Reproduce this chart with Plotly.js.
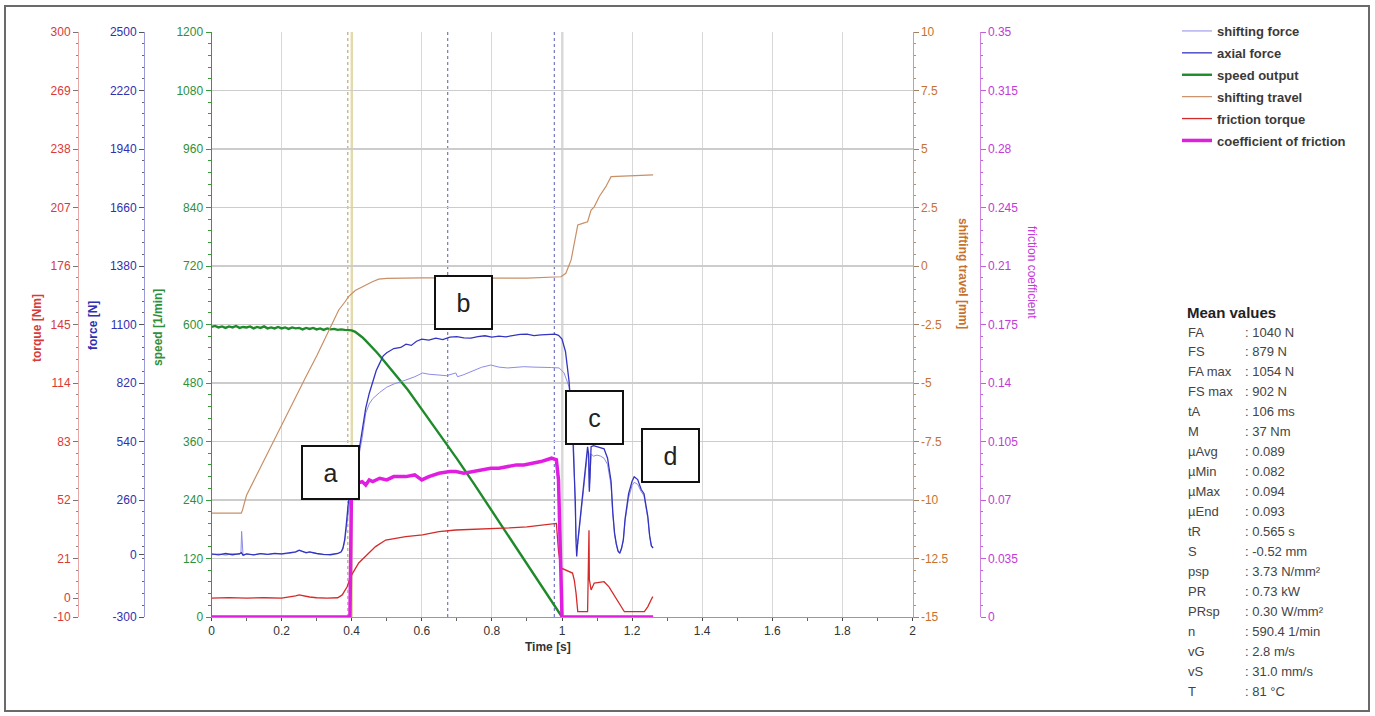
<!DOCTYPE html>
<html><head><meta charset="utf-8">
<script src="https://cdn.plot.ly/plotly-3.0.1.min.js"></script>
<style>html,body{margin:0;padding:0;background:#fff;}#chart{width:1375px;height:716px;}</style>
</head><body><div id="chart"></div>
<script>
// ---------- data ----------
const seriesNames = ["shifting force","axial force","speed output","shifting travel","friction torque","coefficient of friction"];

const tShift = [0,0.02,0.04,0.06,0.08,0.084,0.086,0.088,0.09,0.1,0.12,0.14,0.16,0.18,0.2,0.22,0.24,0.25,0.26,0.27,0.28,0.3,0.32,0.34,0.36,0.37,0.375,0.38,0.385,0.39,0.395,0.4,0.41,0.42,0.43,0.44,0.45,0.46,0.48,0.5,0.52,0.554,0.58,0.602,0.62,0.649,0.67,0.697,0.702,0.72,0.749,0.77,0.797,0.82,0.845,0.87,0.891,0.92,0.94,0.97,0.992,1.006,1.02,1.031,1.035,1.04,1.045,1.05,1.06,1.07,1.073,1.076,1.078,1.08,1.083,1.09,1.1,1.11,1.12,1.13,1.14,1.145,1.15,1.155,1.16,1.165,1.17,1.175,1.18,1.19,1.2,1.206,1.216,1.226,1.234,1.24,1.245,1.25,1.255,1.26];
const shiftForce = [-2,2,-4,3,-1,5,110,20,-5,1,-2,4,-1,3,1,4,10,18,12,6,10,3,-2,0,3,10,25,60,130,210,260,280,370,465,560,676,720,745,775,800,815,834,850,868,862,858,855,868,850,860,882,895,906,896,892,895,898,896,896,894,892,868,802,650,400,80,50,130,280,440,490,470,320,370,480,470,475,470,460,430,330,190,95,45,15,8,28,65,160,270,330,345,335,300,280,220,170,85,40,35];

const tAxial = [0,0.02,0.04,0.06,0.08,0.085,0.09,0.1,0.12,0.14,0.16,0.18,0.2,0.22,0.24,0.25,0.26,0.27,0.28,0.3,0.32,0.34,0.36,0.37,0.375,0.38,0.385,0.39,0.395,0.4,0.41,0.42,0.43,0.44,0.45,0.46,0.47,0.48,0.49,0.5,0.52,0.54,0.555,0.57,0.585,0.6,0.62,0.64,0.66,0.68,0.7,0.72,0.74,0.76,0.78,0.8,0.82,0.84,0.86,0.88,0.9,0.92,0.94,0.96,0.98,0.99,1.0,1.01,1.02,1.03,1.035,1.038,1.04,1.042,1.045,1.05,1.055,1.06,1.065,1.07,1.073,1.076,1.078,1.08,1.083,1.09,1.1,1.11,1.12,1.13,1.14,1.145,1.15,1.155,1.16,1.165,1.17,1.175,1.18,1.19,1.2,1.206,1.216,1.226,1.234,1.24,1.245,1.25,1.255,1.26];
const axialForce = [2,-3,4,-2,3,8,-4,2,-3,3,0,5,2,6,12,20,14,8,12,4,0,-2,4,12,30,70,150,240,290,310,380,480,600,700,770,830,880,915,950,965,985,990,1006,1000,1020,1030,1025,1035,1028,1040,1042,1036,1035,1042,1046,1040,1044,1041,1048,1053,1054,1047,1050,1052,1054,1048,1030,970,830,600,400,250,60,-10,60,140,210,300,400,470,515,480,300,380,515,520,514,510,505,460,350,200,100,50,15,5,30,70,170,290,350,371,358,310,290,230,180,90,40,30];

const tSpeed = [0,0.01,0.02,0.03,0.04,0.05,0.06,0.07,0.08,0.09,0.1,0.11,0.12,0.13,0.14,0.15,0.16,0.17,0.18,0.19,0.2,0.21,0.22,0.23,0.24,0.25,0.26,0.27,0.28,0.29,0.3,0.31,0.32,0.33,0.34,0.35,0.36,0.37,0.38,0.39,0.4,0.41,0.42,0.43,0.44,0.45,0.46,0.47,0.48,0.49,0.5,0.52,0.54,0.56,0.6,0.65,0.7,0.75,0.8,0.85,0.9,0.95,0.98,1.0];
const speedOut = [595,597,594,596,593,596,594,597,593,595,594,596,592,595,593,596,592,594,592,595,592,594,591,594,592,593,590,593,591,593,590,592,589,592,590,591,589,590,589,589,588,585,580,574,567,560,552,544,536,527,518,500,483,466,426,376,325,272,218,164,110,55,22,0];

const tTravel = [0,0.085,0.088,0.1,0.126,0.15,0.173,0.2,0.22,0.24,0.269,0.3,0.33,0.363,0.38,0.391,0.41,0.43,0.459,0.477,0.5,0.6,0.7,0.8,0.9,0.997,1.011,1.026,1.035,1.045,1.059,1.073,1.083,1.092,1.106,1.125,1.14,1.26];
const travel = [-10.56,-10.56,-10.45,-9.8,-9.02,-8.3,-7.56,-6.75,-6.15,-5.6,-4.74,-3.85,-2.9,-1.88,-1.55,-1.31,-1.05,-0.89,-0.67,-0.56,-0.53,-0.51,-0.52,-0.51,-0.52,-0.46,-0.31,0.26,0.97,1.75,1.82,1.89,2.39,2.53,2.96,3.39,3.82,3.89];

const tTorque = [0,0.05,0.1,0.15,0.2,0.22,0.24,0.25,0.26,0.28,0.3,0.33,0.36,0.373,0.387,0.397,0.42,0.44,0.468,0.497,0.554,0.602,0.649,0.697,0.75,0.8,0.85,0.9,0.94,0.984,0.99,0.997,1.03,1.035,1.04,1.045,1.073,1.076,1.077,1.078,1.083,1.092,1.12,1.134,1.145,1.159,1.169,1.178,1.235,1.245,1.254,1.259];
const torque = [0,0.3,0,0.2,0,0.5,1.2,1.7,1.2,0.6,0.2,0,0.2,1.7,6,11.4,18.6,22,27.3,30.8,32.6,33.5,35.2,36.1,36.4,36.8,37.2,37.8,38.8,39.6,25,16,13.3,9.6,2.7,-7.2,-7.2,20,36,10,4.3,8,8.7,6,2.7,-1,-4.5,-7.2,-7.2,-4.5,-1,0.8];

const tMu = [0,0.395,0.397,0.399,0.405,0.415,0.43,0.44,0.45,0.46,0.48,0.5,0.52,0.554,0.58,0.6,0.62,0.649,0.68,0.697,0.72,0.749,0.77,0.797,0.82,0.845,0.87,0.891,0.92,0.94,0.97,0.984,0.99,0.993,0.995,0.998,1.0,1.26];
const mu = [0,0,0.035,0.07,0.076,0.08,0.081,0.079,0.082,0.081,0.083,0.082,0.084,0.084,0.085,0.082,0.084,0.086,0.087,0.087,0.086,0.087,0.088,0.089,0.089,0.09,0.091,0.091,0.092,0.093,0.095,0.094,0.082,0.054,0.04,0.002,0,0];

// cursor times
const cursorSolid = [0.400, 1.001];
const cursorDotOlive = [0.389];
const cursorDotBlue = [0.674, 0.978];

// tick labels
const torqueTicks = [-10,0,21,52,83,114,145,176,207,238,269,300];
const torqueTickText = ["-10","0","21","52","83","114","145","176","207","238","269","300"];
const forceTicks = [-300,0,260,540,820,1100,1380,1660,1940,2220,2500];
const forceTickText = ["-300","0","260","540","820","1100","1380","1660","1940","2220","2500"];
const travelTicks = [-15,-12.5,-10,-7.5,-5,-2.5,0,2.5,5,7.5,10];
const travelTickText = ["-15","-12.5","-10","-7.5","-5","-2.5","0","2.5","5","7.5","10"];
const muTicks = [0,0.035,0.07,0.105,0.14,0.175,0.21,0.245,0.28,0.315,0.35];
const muTickText = ["0","0.035","0.07","0.105","0.14","0.175","0.21","0.245","0.28","0.315","0.35"];

// panel texts
const boxLetters = ["a","b","c","d"];
const meanTitle = "Mean values";
const meanLabels = ["FA","FS","FA max","FS max","tA","M","µAvg","µMin","µMax","µEnd","tR","S","psp","PR","PRsp","n","vG","vS","T"];
const meanValues = [": 1040 N",": 879 N",": 1054 N",": 902 N",": 106 ms",": 37 Nm",": 0.089",": 0.082",": 0.094",": 0.093",": 0.565 s",": -0.52 mm",": 3.73 N/mm²",": 0.73 kW",": 0.30 W/mm²",": 590.4 1/min",": 2.8 m/s",": 31.0 mm/s",": 81 °C"];

// ---------- layout helpers ----------
const W = 1375, TOP = 32, BOT = 617;
const fx = p => p / W;
const fy = p => (BOT - p) / (BOT - TOP);
const FONT = "Liberation Sans, Arial, sans-serif";

const C = {
  shift: "#8c8ce6", axial: "#3434c0", speed: "#1f8a2a", travel: "#c98f66",
  torque: "#d42a2a", mu: "#e01ee0",
  tRed: "#d83a3a", tBlue: "#3030b0", tGreen: "#2f8f3a", tBrown: "#c8712e", tMag: "#c23ad8"
};

const traces = [
  {x: tShift, y: shiftForce, name: seriesNames[0], yaxis: "y2", line: {color: C.shift, width: 1}},
  {x: tAxial, y: axialForce, name: seriesNames[1], yaxis: "y2", line: {color: C.axial, width: 1.3}},
  {x: tSpeed, y: speedOut, name: seriesNames[2], yaxis: "y", line: {color: C.speed, width: 2.4}},
  {x: tTravel, y: travel, name: seriesNames[3], yaxis: "y4", line: {color: C.travel, width: 1.2}},
  {x: tTorque, y: torque, name: seriesNames[4], yaxis: "y3", line: {color: C.torque, width: 1.3}},
  {x: tMu, y: mu, name: seriesNames[5], yaxis: "y5", line: {color: C.mu, width: 3.5}}
].map((t, i) => Object.assign({type: "scatter", mode: "lines", legendgroup: "g" + i, hoverinfo: "skip"}, t));

function yax(o) {
  return Object.assign({
    showgrid: false, zeroline: false, showline: true, linewidth: 1,
    ticks: "outside", ticklen: 5, tickwidth: 1, fixedrange: true
  }, o);
}

const shapes = [];
cursorSolid.forEach(t => shapes.push({type: "line", xref: "x", yref: "paper", x0: t, x1: t, y0: 0, y1: 1, layer: "between", line: {color: "#d6c98a", width: 2}}));
cursorDotOlive.forEach(t => shapes.push({type: "line", xref: "x", yref: "paper", x0: t, x1: t, y0: 0, y1: 1, layer: "between", line: {color: "#a89a5a", width: 1, dash: "dot"}}));
cursorDotBlue.forEach(t => shapes.push({type: "line", xref: "x", yref: "paper", x0: t, x1: t, y0: 0, y1: 1, layer: "between", line: {color: "#5a5ab0", width: 1, dash: "dot"}}));
// outer frame
shapes.push({type: "rect", xref: "paper", yref: "paper", x0: fx(5), x1: fx(1369), y0: fy(711), y1: fy(6), line: {color: "#6a6a6a", width: 2}});

const annotations = [];
function axTitle(text, px, pyc, color, angle) {
  annotations.push({text: text, xref: "paper", yref: "paper", x: fx(px), y: fy(pyc), xanchor: "center", yanchor: "middle",
    showarrow: false, textangle: angle, font: {family: FONT, size: 12, color: color}});
}
axTitle("<b>torque [Nm]</b>", 37, 328, C.tRed, -90);
axTitle("<b>force [N]</b>", 93, 326, C.tBlue, -90);
axTitle("<b>speed [1/min]</b>", 158, 328, C.tGreen, -90);
axTitle("<b>shifting travel [mm]</b>", 963, 273, C.tBrown, 90);
axTitle("friction coefficient", 1032, 272, C.tMag, 90);
annotations.push({text: "<b>Time [s]</b>", xref: "paper", yref: "paper", x: fx(548), y: fy(647), showarrow: false,
  xanchor: "center", yanchor: "middle", font: {family: FONT, size: 12, color: "#333"}});

// letter boxes
const boxCenters = [[330, 472], [463.5, 302.5], [594, 417], [670.5, 455]];
boxLetters.forEach((L, i) => annotations.push({text: L, xref: "paper", yref: "paper", x: fx(boxCenters[i][0]), y: fy(boxCenters[i][1]),
  xanchor: "center", yanchor: "middle", showarrow: false, width: 55, height: 51, borderpad: 0, borderwidth: 2,
  bordercolor: "#111", bgcolor: "#fff", font: {family: FONT, size: 25, color: "#222"}}));

// mean values panel
annotations.push({text: "<b>" + meanTitle + "</b>", xref: "paper", yref: "paper", x: fx(1185), y: fy(312), xanchor: "left", yanchor: "middle",
  showarrow: false, font: {family: FONT, size: 15, color: "#222"}});
meanLabels.forEach((lab, i) => {
  const yy = 332 + i * 19.95;
  annotations.push({text: lab, xref: "paper", yref: "paper", x: fx(1186), y: fy(yy), xanchor: "left", yanchor: "middle",
    showarrow: false, font: {family: FONT, size: 13, color: "#444"}});
  annotations.push({text: meanValues[i], xref: "paper", yref: "paper", x: fx(1243), y: fy(yy), xanchor: "left", yanchor: "middle",
    showarrow: false, font: {family: FONT, size: 13, color: "#444"}});
});

const layout = {
  width: 1375, height: 716,
  margin: {l: 0, r: 0, t: TOP, b: 716 - BOT, pad: 0},
  paper_bgcolor: "#fff", plot_bgcolor: "#fff",
  font: {family: FONT, size: 12, color: "#333"},
  showlegend: true,
  legend: {x: fx(1177), y: fy(16), xanchor: "left", yanchor: "top", bgcolor: "rgba(0,0,0,0)",
    font: {family: FONT, size: 13, color: "#3a3a3a", weight: "bold"}, tracegroupgap: 2, itemwidth: 30},
  xaxis: {domain: [fx(211.5), fx(912.5)], range: [0, 2], dtick: 0.2, tick0: 0, showgrid: true, gridcolor: "#d8d8d8", gridwidth: 1,
    zeroline: false, showline: true, linecolor: "#999", ticks: "outside", ticklen: 3, tickcolor: "#444",
    minor: {dtick: 0.1, ticks: "outside", ticklen: 3, tickcolor: "#666", showgrid: false},
    tickfont: {family: FONT, size: 12, color: "#333"}, fixedrange: true},
  yaxis: yax({range: [0, 1200], dtick: 120, tick0: 0, side: "left", anchor: "x", showgrid: true, gridcolor: "#cccccc", gridwidth: 1.5,
    linecolor: "#3a9a3a", tickcolor: "#3a9a3a", tickfont: {family: FONT, size: 12, color: C.tGreen},
    minor: {dtick: 24, ticks: "outside", ticklen: 2.5, tickcolor: "#3a9a3a"}}),
  yaxis2: yax({range: [-300, 2500], overlaying: "y", side: "left", anchor: "free", position: fx(144), tickmode: "array",
    tickvals: forceTicks, ticktext: forceTickText, linecolor: "#9a9ad8", tickcolor: "#555", tickfont: {family: FONT, size: 12, color: C.tBlue},
    minor: {tickmode: "linear", tick0: -300, dtick: 56, ticks: "outside", ticklen: 2.5, tickcolor: "#666"}}),
  yaxis3: yax({range: [-10, 300], overlaying: "y", side: "left", anchor: "free", position: fx(78), tickmode: "array",
    tickvals: torqueTicks, ticktext: torqueTickText, linecolor: "#e8a8a8", tickcolor: "#777", tickfont: {family: FONT, size: 12, color: C.tRed},
    minor: {tickmode: "linear", tick0: -10, dtick: 6.2, ticks: "outside", ticklen: 2.5, tickcolor: "#888"}}),
  yaxis4: yax({range: [-15, 10], overlaying: "y", side: "right", anchor: "x", tickmode: "array",
    tickvals: travelTicks, ticktext: travelTickText, linecolor: "#c8a486", tickcolor: "#a08060", tickfont: {family: FONT, size: 12, color: C.tBrown},
    minor: {tickmode: "linear", tick0: -15, dtick: 0.5, ticks: "outside", ticklen: 2.5, tickcolor: "#b09070"}}),
  yaxis5: yax({range: [0, 0.35], overlaying: "y", side: "right", anchor: "free", position: fx(979.5), tickmode: "array",
    tickvals: muTicks, ticktext: muTickText, linecolor: "#d080e0", tickcolor: "#c060d8", tickfont: {family: FONT, size: 12, color: C.tMag},
    minor: {tickmode: "linear", tick0: 0, dtick: 0.007, ticks: "outside", ticklen: 2.5, tickcolor: "#c060d8"}}),
  shapes: shapes,
  annotations: annotations
};

Plotly.newPlot("chart", traces, layout, {displayModeBar: false, staticPlot: true});
</script></body></html>
